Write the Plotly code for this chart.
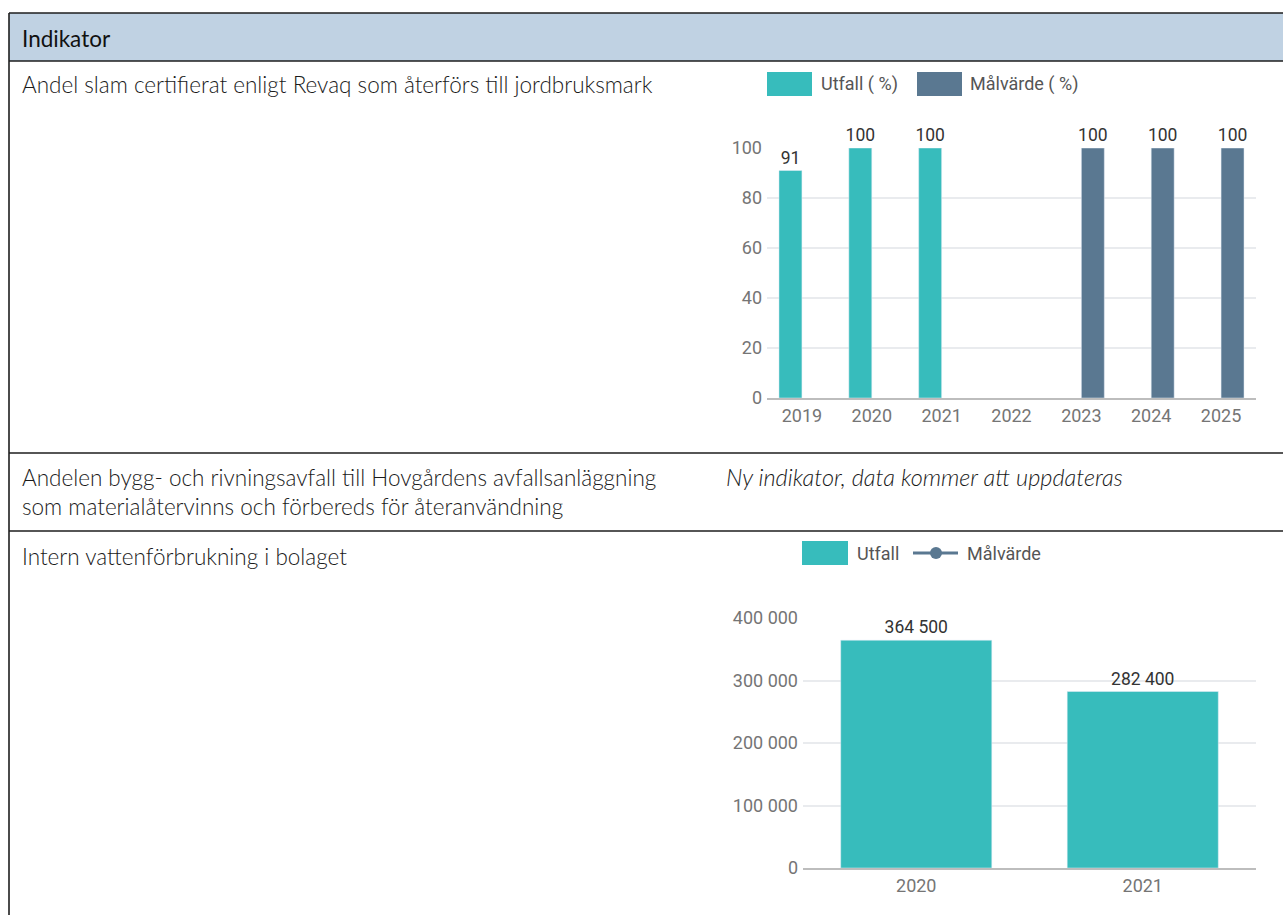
import plotly.graph_objects as go

W, H = 1283, 915

# ---- data ----
years1 = ["2019", "2020", "2021", "2022", "2023", "2024", "2025"]
utfall1 = [91, 100, 100, None, None, None, None]
malvarde1 = [None, None, None, None, 100, 100, 100]

years2 = ["2020", "2021"]
utfall2 = [364500, 282400]
malvarde2 = [None, None]

row_labels = [
    "Andel slam certifierat enligt Revaq som återförs till jordbruksmark",
    "Andelen bygg- och rivningsavfall till Hovgårdens avfallsanläggning<br>som materialåtervinns och förbereds för återanvändning",
    "Intern vattenförbrukning i bolaget",
]
note_text = "Ny indikator, data kommer att uppdateras"

TEAL = "#37bcbc"
SLATE = "#5a7891"
TICK = "#757575"
GRID = "#e9ebee"
TXT = "#333333"


def fx(x):
    return x / W


def fy(y):
    return 1 - y / H


fig = go.Figure()

LBL = dict(family="Roboto", size=17.5, color=TXT)
fig.add_trace(go.Bar(x=years1, y=utfall1, name="Utfall ( %)", marker_color=TEAL,
                     textposition="outside", texttemplate="%{y}",
                     textfont=LBL, constraintext="none",
                     cliponaxis=False, xaxis="x", yaxis="y", showlegend=False))
fig.add_trace(go.Bar(x=years1, y=malvarde1, name="Målvärde ( %)", marker_color=SLATE,
                     textposition="outside", texttemplate="%{y}",
                     textfont=LBL, constraintext="none",
                     cliponaxis=False, xaxis="x", yaxis="y", showlegend=False))

fig.add_trace(go.Bar(x=years2, y=utfall2, name="Utfall", marker_color=TEAL,
                     width=0.667, textposition="outside", texttemplate="%{y:,}",
                     textfont=LBL, constraintext="none",
                     cliponaxis=False, xaxis="x2", yaxis="y2", showlegend=False))
fig.add_trace(go.Scatter(x=years2, y=malvarde2, name="Målvärde", mode="lines+markers",
                         line=dict(color=SLATE, width=3), xaxis="x2", yaxis="y2",
                         showlegend=False))

axfont = dict(family="Roboto", size=18, color=TICK)

fig.update_layout(
    autosize=True, margin=dict(l=0, r=0, t=0, b=0, autoexpand=False),
    paper_bgcolor="white", plot_bgcolor="white",
    barmode="group", bargap=0.343, bargroupgap=0, separators=", ",
    xaxis=dict(domain=[fx(767), fx(1256)], type="category", categoryorder="array",
               categoryarray=years1, showline=True, linecolor="#bdbdbd", linewidth=2,
               showgrid=False, tickfont=axfont, ticks="", fixedrange=True),
    yaxis=dict(domain=[fy(398), fy(148)], range=[0, 100], dtick=20, showgrid=True,
               gridcolor=GRID, gridwidth=1.5, zeroline=False, tickfont=axfont, ticks="",
               ticklabelstandoff=4),
    xaxis2=dict(domain=[fx(803), fx(1256)], type="category", anchor="y2",
                showline=True, linecolor="#bdbdbd", linewidth=2, showgrid=False,
                tickfont=axfont, ticks=""),
    yaxis2=dict(domain=[fy(868), fy(618)], range=[0, 400000], dtick=100000, anchor="x2",
                tickformat=",", showgrid=True, gridcolor=GRID, gridwidth=1.5,
                zeroline=False, tickfont=axfont, ticks="", ticklabelstandoff=4),
)

shapes = []
LINE = dict(color="#1e1e1e", width=1.6)
# header
shapes.append(dict(type="rect", xref="paper", yref="paper", x0=fx(9), x1=fx(1290),
                   y0=fy(61), y1=fy(13), fillcolor="#c0d2e3", line=dict(width=0), layer="below"))
for yy in [13, 61, 453, 531]:
    shapes.append(dict(type="line", xref="paper", yref="paper", x0=fx(9), x1=fx(1290),
                       y0=fy(yy), y1=fy(yy), line=LINE))
shapes.append(dict(type="line", xref="paper", yref="paper", x0=fx(9), x1=fx(9),
                   y0=fy(13), y1=fy(920), line=LINE))

# legend swatches
shapes.append(dict(type="rect", xref="paper", yref="paper", x0=fx(767), x1=fx(812),
                   y0=fy(96), y1=fy(72), fillcolor=TEAL, line=dict(width=0)))
shapes.append(dict(type="rect", xref="paper", yref="paper", x0=fx(917), x1=fx(962),
                   y0=fy(96), y1=fy(72), fillcolor=SLATE, line=dict(width=0)))
shapes.append(dict(type="rect", xref="paper", yref="paper", x0=fx(802), x1=fx(848),
                   y0=fy(565), y1=fy(541), fillcolor=TEAL, line=dict(width=0)))
shapes.append(dict(type="line", xref="paper", yref="paper", x0=fx(913), x1=fx(958),
                   y0=fy(553), y1=fy(553), line=dict(color=SLATE, width=3)))
shapes.append(dict(type="circle", xref="paper", yref="paper", x0=fx(930), x1=fx(942),
                   y0=fy(559), y1=fy(547), fillcolor=SLATE, line=dict(width=0)))
fig.update_layout(shapes=shapes)

TFONT = dict(family="Lato", size=22.5, color="#1a1a1a", weight=300)
ann = []


def text(x, y, s, font, anchor="left"):
    ann.append(dict(x=fx(x), y=fy(y), xref="paper", yref="paper", text=s, showarrow=False,
                    xanchor=anchor, yanchor="middle", font=font, align="left"))


text(20, 38, "Indikator", dict(family="Lato", size=22.5, color="#111111", weight=400))
text(20, 85, row_labels[0], TFONT)
text(20, 492, row_labels[1], TFONT)
text(20, 556, row_labels[2], TFONT)
text(724, 477, "<i>" + note_text + "</i>", dict(family="Lato", size=23.5, color="#1a1a1a", weight=300))

LF = dict(family="Roboto", size=18, color="#555555")
text(819, 84, "Utfall ( %)", LF)
text(968, 84, "Målvärde ( %)", LF)
text(855, 553, "Utfall", LF)
text(965, 553, "Målvärde", LF)
fig.update_layout(annotations=ann)

post = """
document.documentElement.style.margin='0';
document.documentElement.style.overflow='hidden';
document.body.style.margin='0';
document.body.style.overflow='hidden';
var gd = document.getElementById('{plot_id}');
gd.style.position='fixed'; gd.style.left='0px'; gd.style.top='0px';
gd.style.width='100vw'; gd.style.height='100vh';
Plotly.Plots.resize(gd);
"""

fig.write_html("out.html", config={"responsive": True, "displayModeBar": False},
               default_width="100vw", default_height="100vh", post_script=post)
